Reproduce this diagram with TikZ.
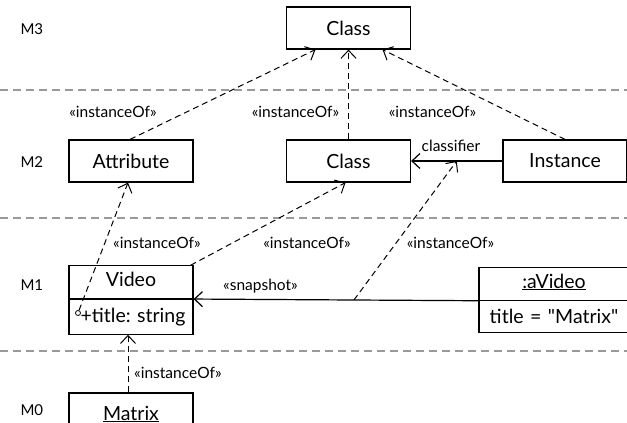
\documentclass[tikz,border=0pt]{standalone}
\usepackage{fontspec}
\setmainfont{Lato}
\newfontfamily\latoplain{Lato}
\frenchspacing
\usetikzlibrary{arrows.meta,shapes.multipart}

\tikzset{
  box/.style={draw, line width=1.2pt, minimum width=124pt, minimum height=42pt,
    inner sep=0pt, font=\fontsize{19.5}{22}\selectfont},
  splitbox/.style={draw, line width=1.2pt, rectangle split, rectangle split parts=2,
    inner xsep=0pt, inner ysep=8pt, text height=12pt, text depth=4pt,
    align=center, font=\fontsize{19.5}{22}\selectfont},
  layer/.style={anchor=west, font=\fontsize{15}{17}\selectfont},
  stereo/.style={font=\fontsize{15.5}{17}\selectfont, inner sep=1pt},
  sep/.style={gray!80, line width=1.2pt, dash pattern=on 8pt off 5pt},
  dep/.style={line width=1pt, dash pattern=on 6pt off 4pt,
    -{Straight Barb[length=8pt,width=15pt]}},
  assoc/.style={line width=1.2pt, -{Straight Barb[length=8pt,width=15pt]}}
}

\begin{document}
\begin{tikzpicture}[x=1pt,y=-1pt]
  \useasboundingbox (0,0) rectangle (627,423);
  \clip (0,0) rectangle (627,423);

  \draw[sep] (0,90) -- (627,90);
  \draw[sep] (0,218) -- (627,218);
  \draw[sep] (0,351) -- (627,351);

  \node[layer] (m3) at (17,29) {M3};
  \node[layer] (m2) at (17,162) {M2};
  \node[layer] (m1) at (17,285) {M1};
  \node[layer] (m0) at (17,410) {M0};

  \node[box] (metaclass) at (348.5,28) {Class};
  \node[box] (attribute) at (131,161) {Attribute};
  \node[box] (class) at (348.5,161) {Class};
  \node[box] (instance) at (565,161) {Instance};
  \node[splitbox, text width=124pt] (video) at (131,300)
    {Video\nodepart{two}\hspace*{4pt}+title: string};
  \node[splitbox, text width=150pt] (avideo) at (554,300)
    {\underline{:aVideo}\nodepart{two}\raggedright\latoplain title = "Matrix"};
  \node[box] (matrix) at (131,414) {\underline{Matrix}};
  \node[draw, circle, line width=0.8pt, inner sep=0pt, minimum size=5pt] (title) at (78,313) {};

  \draw[dep] ([xshift=-1pt]attribute.north) -- ([xshift=-33pt]metaclass.south);
  \draw[dep] (class.north) -- (metaclass.south);
  \draw[dep] (instance.north) -- ([xshift=34pt]metaclass.south);
  \node[stereo] (io1) at (113,112) {«instanceOf»};
  \node[stereo] (io2) at (295.5,112) {«instanceOf»};
  \node[stereo] (io3) at (432.5,112) {«instanceOf»};

  \draw[assoc] (instance.west) -- coordinate[pos=0.5] (cls) (class.east);
  \node[stereo] (classifier) at (451,146) {classifier};

  \draw[assoc] (avideo.text split west) -- coordinate[pos=0.437] (snap) (video.text split east);
  \node[stereo, anchor=west] (snapshot) at (222,286) {«snapshot»};

  \draw[dep] (title) -- ([xshift=-3pt]attribute.south);
  \draw[dep] ([xshift=-3pt]video.north east) -- ([xshift=-3pt]class.south);
  \draw[dep] (snap) -- (cls);
  \node[stereo, anchor=west] (io4) at (112,243) {«instanceOf»};
  \node[stereo] (io5) at (307,243) {«instanceOf»};
  \node[stereo] (io6) at (450.5,243) {«instanceOf»};

  \draw[dep] ([xshift=-3pt]matrix.north) -- ([xshift=-3pt]video.south);
  \node[stereo, anchor=west] (io7) at (133,373) {«instanceOf»};
\end{tikzpicture}
\end{document}
